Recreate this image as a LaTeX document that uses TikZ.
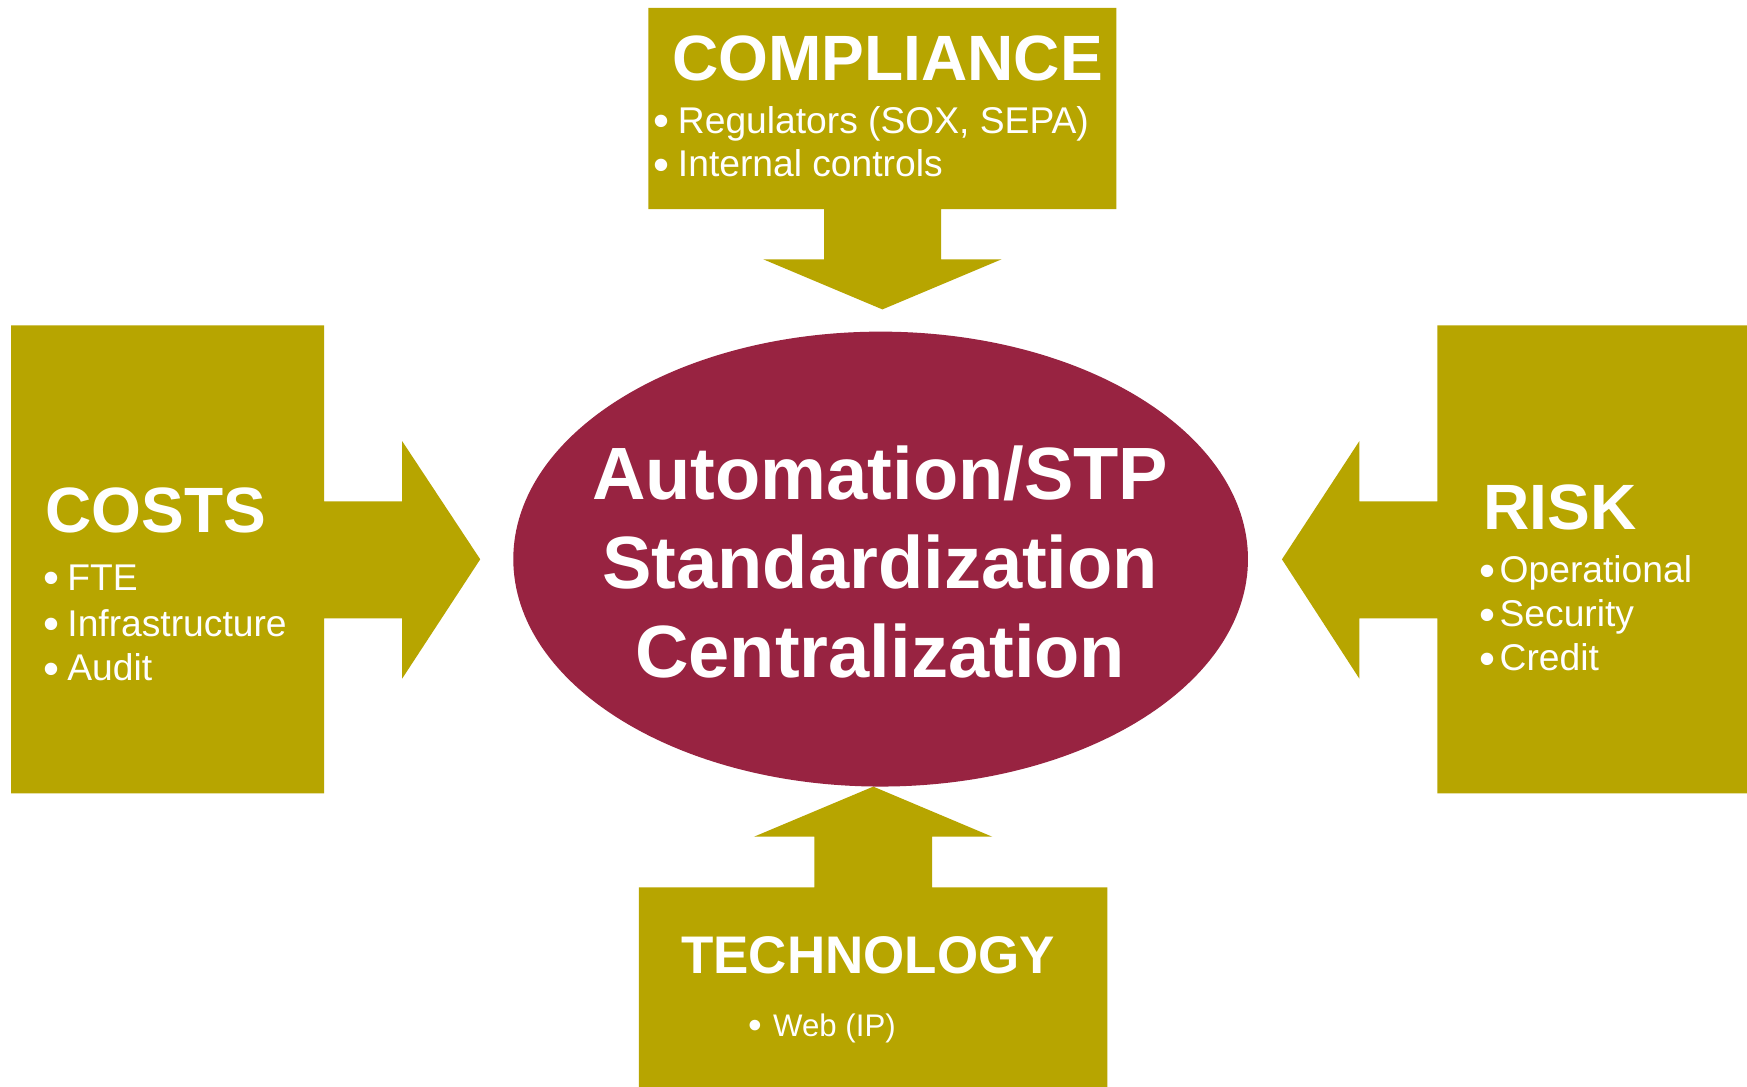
\documentclass[tikz,border=0pt]{standalone}
\usepackage{fontspec}
\setmainfont{Liberation Sans}
\usetikzlibrary{shapes.geometric}
\definecolor{boxolive}{HTML}{B7A500}
\definecolor{coremaroon}{HTML}{982341}
\begin{document}
\begin{tikzpicture}[x=1pt,y=-1pt,
  txt/.style={inner sep=0pt, outer sep=0pt, text=white},
  bigtitle/.style={txt, anchor=base, font=\bfseries\fontsize{57.5}{60}\selectfont},
  coretitle/.style={txt, anchor=base, font=\bfseries\fontsize{66.5}{70}\selectfont},
  item/.style={txt, anchor=base west, font=\fontsize{33.4}{35}\selectfont},
  dot/.style={txt, anchor=base, yshift=-3pt, font=\fontsize{41}{43}\selectfont},
  smallitem/.style={txt, anchor=base west, font=\fontsize{28}{30}\selectfont},
  smalldot/.style={txt, anchor=base, yshift=-2.5pt, font=\fontsize{35}{37}\selectfont}]
\useasboundingbox (0,0) rectangle (1568,975);
\fill[white] (0,0) rectangle (1568,975);

% shapes: box + block arrow
\fill[boxolive] (582,7) -- (1002,7) -- (1002,187.6) -- (844.6,187.6) -- (844.6,232.7)
  -- (899,232.7) -- (792,277.7) -- (685,232.7) -- (739.6,232.7) -- (739.6,187.6)
  -- (582,187.6) -- cycle;
\fill[boxolive] (10,292) -- (291,292) -- (291,450) -- (361,450) -- (361,396)
  -- (431,502) -- (361,609) -- (361,555) -- (291,555) -- (291,712) -- (10,712) -- cycle;
\fill[boxolive] (1570,292) -- (1290,292) -- (1290,450) -- (1220,450) -- (1220,396)
  -- (1150.6,502) -- (1220,609) -- (1220,555) -- (1290,555) -- (1290,712) -- (1570,712) -- cycle;
\fill[boxolive] (573.5,977) -- (573.5,796.4) -- (731,796.4) -- (731,751) -- (676.7,751)
  -- (783.8,706) -- (890.6,751) -- (836.5,751) -- (836.5,796.4) -- (994,796.4)
  -- (994,977) -- cycle;

% central ellipse
\node[ellipse, fill=coremaroon, inner sep=0pt, minimum width=659.4pt, minimum height=408.3pt] (core) at (790.4,501.8) {};
\node[coretitle] (core1) at (790,447.9) {Automation/STP};
\node[coretitle] (core2) at (790,528) {Standardization};
\node[coretitle] (core3) at (790,608) {Centralization};

% compliance
\node[bigtitle] (compT) at (796.5,71.8) {COMPLIANCE};
\node[dot] (compD1) at (594,119.7) {•};
\node[item] (comp1) at (608.5,119.7) {Regulators (SOX, SEPA)};
\node[dot] (compD2) at (594,158.6) {•};
\node[item] (comp2) at (608.5,158.6) {Internal controls};

% costs
\node[bigtitle] (costT) at (139.6,478) {COSTS};
\node[dot] (costD1) at (46,530) {•};
\node[item] (cost1) at (60.5,530) {FTE};
\node[dot] (costD2) at (46,571) {•};
\node[item] (cost2) at (60.5,571) {Infrastructure};
\node[dot] (costD3) at (46,611) {•};
\node[item] (cost3) at (60.5,611) {Audit};

% risk
\node[bigtitle] (riskT) at (1400.3,475) {RISK};
\node[dot] (riskD1) at (1335,523) {•};
\node[item] (risk1) at (1346,523) {Operational};
\node[dot] (riskD2) at (1335,562.5) {•};
\node[item] (risk2) at (1346,562.5) {Security};
\node[dot] (riskD3) at (1335,602) {•};
\node[item] (risk3) at (1346,602) {Credit};

% technology
\node[txt, anchor=base, font=\bfseries\fontsize{47.5}{50}\selectfont] (techT) at (779,874) {TECHNOLOGY};
\node[smalldot] (techD1) at (677.6,930) {•};
\node[smallitem] (tech1) at (694,930) {Web (IP)};
\end{tikzpicture}
\end{document}
